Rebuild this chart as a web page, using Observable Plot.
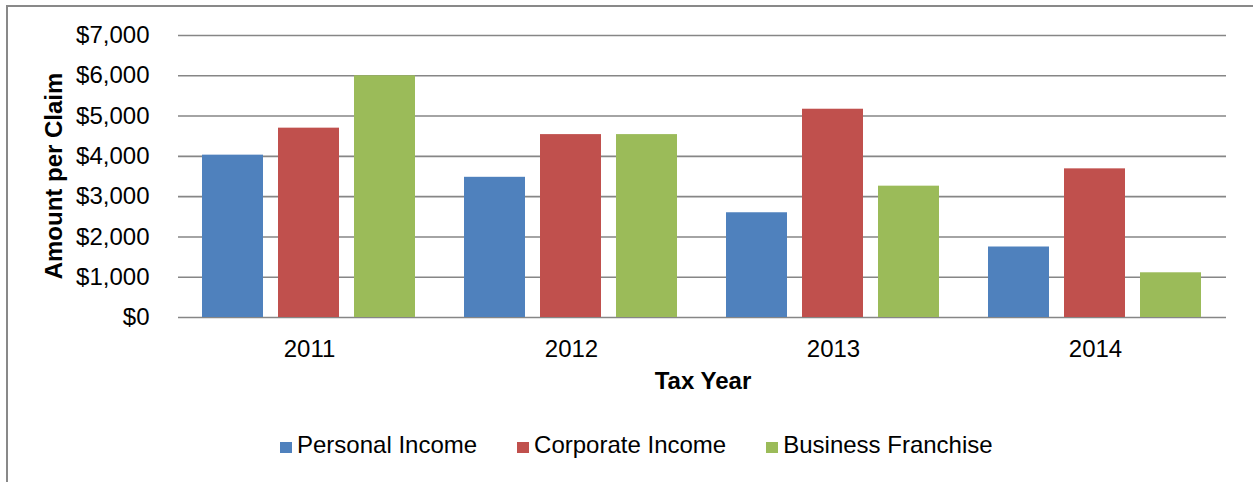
<!DOCTYPE html>
<html><head><meta charset="utf-8">
<script src="https://cdn.jsdelivr.net/npm/d3@7"></script>
<script src="https://cdn.jsdelivr.net/npm/@observablehq/plot@0.6"></script>
<style>
html,body{margin:0;padding:0;background:#fff;overflow:hidden;width:1253px;height:482px;}
#wrap{position:relative;width:1253px;height:482px;font-family:"Liberation Sans",Arial,sans-serif;color:#000;}
#frame{position:absolute;left:6px;top:5px;width:1400px;height:700px;border:2px solid #898989;box-sizing:border-box;pointer-events:none;}
#chart svg{display:block;}
.ytitle{position:absolute;left:54px;top:176px;transform:translate(-50%,-50%) rotate(-90deg);font-weight:bold;font-size:24px;white-space:nowrap;}
.xtitle{position:absolute;left:703px;top:381px;transform:translate(-50%,-50%);font-weight:bold;font-size:24px;white-space:nowrap;}
#legend{height:72px;box-sizing:border-box;padding-top:21px;padding-left:280px;font-size:24px;white-space:nowrap;}
#legend .item{display:inline-block;margin-right:40px;}
#legend .sw{display:inline-block;width:12px;height:11px;margin-right:5px;vertical-align:baseline;}
</style>
</head><body>
<div id="wrap">
  <div id="chart"></div>
  <div id="legend"></div>
  <div class="ytitle">Amount per Claim</div>
  <div class="xtitle">Tax Year</div>
  <div id="frame"></div>
</div>
<script>
const years = ["2011", "2012", "2013", "2014"];
const series = ["Personal Income", "Corporate Income", "Business Franchise"];
const personal = [4030, 3480, 2600, 1750];
const corporate = [4700, 4540, 5170, 3690];
const franchise = [6000, 4540, 3260, 1110];
const colors = ["#4F81BD", "#C0504D", "#9BBB59"];
const yTicks = [0, 1000, 2000, 3000, 4000, 5000, 6000, 7000];

const valuesBySeries = [personal, corporate, franchise];
const rows = years.flatMap((yr, i) =>
  series.map((s, j) => ({year: yr, series: s, value: valuesBySeries[j][i]}))
);

const chart = Plot.plot({
  width: 1253,
  height: 410,
  marginTop: 35,
  marginBottom: 93,
  marginLeft: 177,
  marginRight: 27,
  style: {fontSize: "24px", fontFamily: "'Liberation Sans', Arial, sans-serif", color: "#000", background: "transparent", overflow: "visible"},
  facet: {data: rows, x: "year"},
  fx: {domain: years, padding: 0, axis: "bottom", tickSize: 0, tickPadding: 22, label: null},
  x: {domain: series, paddingInner: 0.195, paddingOuter: 0.3, axis: null},
  y: {domain: [0, 7000], ticks: yTicks, tickFormat: d3.format("$,"), tickSize: 0, tickPadding: 29, label: null},
  color: {domain: series, range: colors},
  marks: [
    Plot.ruleY(yTicks, {stroke: "#868686", strokeWidth: 1.6}),
    Plot.barY(rows, {x: "series", y: "value", fill: "series"})
  ]
});
document.getElementById("chart").appendChild(chart);

const legend = document.getElementById("legend");
series.forEach((s, i) => {
  const item = document.createElement("span");
  item.className = "item";
  const sw = document.createElement("span");
  sw.className = "sw";
  sw.style.background = colors[i];
  item.appendChild(sw);
  item.appendChild(document.createTextNode(s));
  legend.appendChild(item);
});
</script>
</body></html>
